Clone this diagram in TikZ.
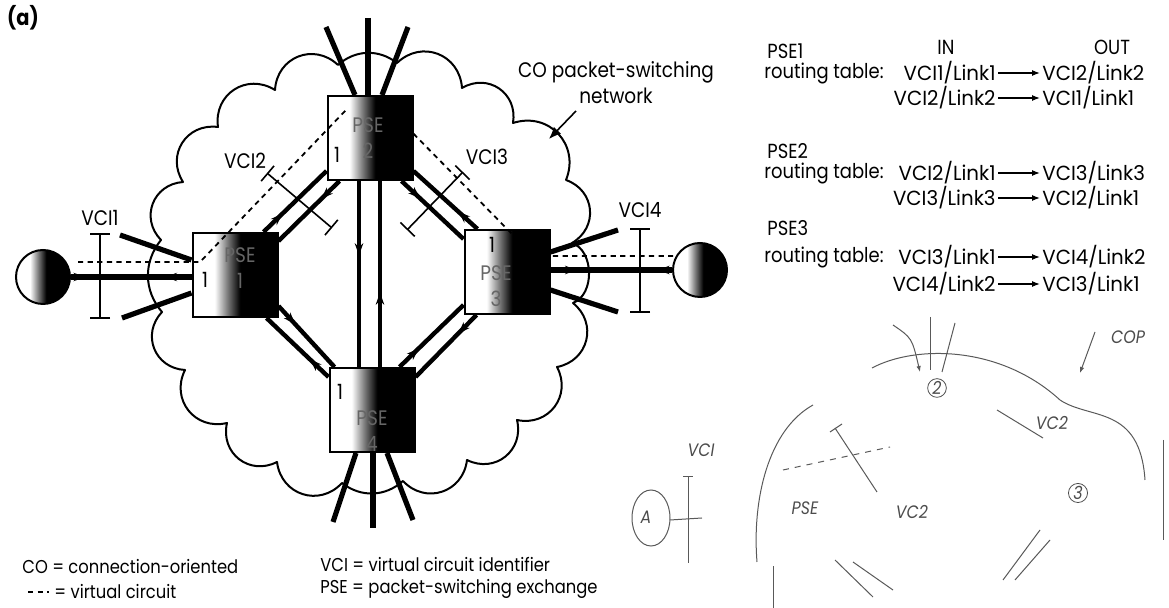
\documentclass[tikz,border=0pt]{standalone}
\usepackage{fontspec}
\setmainfont{Poppins}[FakeStretch=0.88]
\newfontfamily\widefont{Poppins}[FakeStretch=0.97]
\usetikzlibrary{positioning, arrows.meta, calc, backgrounds, decorations.markings}

% white on the left, black on the right (PSEs and hosts)
\pgfdeclarehorizontalshading{psegrad}{100bp}{color(0bp)=(white); color(38bp)=(white); color(46bp)=(black!55); color(53bp)=(black); color(100bp)=(black)}

\newcommand{\tabfont}{\fontsize{10.2}{12}\selectfont}
\newcommand{\legfont}{\fontsize{9.3}{11}\selectfont}
\newcommand{\lblfont}{\fontsize{10.5}{13}\selectfont}

\begin{document}
\begin{tikzpicture}[x=0.5pt, y=-0.5pt,
    pse/.style={draw, line width=1pt, shading=psegrad, minimum width=42.5pt, minimum height=42pt, inner sep=0pt},
    host/.style={circle, draw, line width=1pt, shading=psegrad, minimum size=27pt, inner sep=0pt},
    link/.style={line width=2.2pt},
    stub/.style={line width=2.6pt},
    vc/.style={line width=0.9pt, dash pattern=on 2.6pt off 2.2pt},
    vcibar/.style={line width=0.8pt, {Bar[width=10pt]}-{Bar[width=10pt]}},
    cloudline/.style={line width=1pt, line join=round},
    cloudbump/.style={bend left=65, looseness=1.25},
    midarrow/.style={postaction={decorate}, decoration={markings, mark=at position #1 with {\arrow{Stealth[length=6pt, width=4.2pt]}}}},
    hostarrows/.style={postaction={decorate}, decoration={markings,
        mark=at position 0.12 with {\arrow{Stealth[length=6pt, width=4.2pt]}},
        mark=at position 0.88 with {\arrow{Stealth[length=6pt, width=4.2pt, reversed]}}}},
    lbl/.style={font=\lblfont, inner sep=1pt},
    boxtext/.style={font=\lblfont, inner sep=0pt, align=center},
    tab/.style={font=\tabfont, inner sep=1pt},
    entry/.style={font=\widefont\tabfont, inner sep=1pt},
    tabarrow/.style={line width=0.6pt, -{Latex[length=4pt, width=3pt]}},
    leg/.style={font=\legfont, inner sep=0pt, anchor=west},
    sketch/.style={line width=0.5pt, black!65},
    sketchtext/.style={font=\fontsize{9}{10}\selectfont\itshape, black!70, inner sep=1pt}]
  \useasboundingbox (0,0) rectangle (1169,608);

  \node[font=\bfseries\fontsize{11}{13}\selectfont] (figtag) at (23,18) {(a)};

  % exchanges and hosts
  \node[pse] (pse1) at (235,275) {};
  \node[pse] (pse2) at (370,138) {};
  \node[pse] (pse3) at (507,272) {};
  \node[pse] (pse4) at (372,410) {};
  \node[host] (host1) at (43,277) {};
  \node[host] (host2) at (700,270) {};

  % free ends of the outgoing links
  \coordinate (west1) at (120,235);  \coordinate (west2) at (122,318);
  \coordinate (east1) at (618,230);  \coordinate (east2) at (618,312);
  \coordinate (top1) at (326,27);    \coordinate (top2) at (368,18);    \coordinate (top3) at (408,27);
  \coordinate (bot1) at (333,522);   \coordinate (bot2) at (373,528);   \coordinate (bot3) at (413,520);

  \begin{scope}[on background layer]
    % CO network cloud
    \draw[cloudline] (338,65) to[bend left=40] (397,63)
      to[cloudbump] (462,88) to[cloudbump] (513,123) to[cloudbump] (566,180) to[cloudbump] (572,243)
      to[bend left=70] (573,303)
      to[cloudbump] (557,367) to[cloudbump] (517,420) to[cloudbump] (467,460) to[cloudbump] (403,481)
      to[bend left=40] (342,483)
      to[cloudbump] (277,462) to[cloudbump] (227,423) to[cloudbump] (185,370) to[cloudbump] (162,312)
      to[bend left=40] (161,240)
      to[cloudbump] (183,182) to[cloudbump] (218,127) to[cloudbump] (275,90) to[cloudbump] (338,65);

    % links leaving the network
    \draw[stub] (west1) -- ($(pse1.west)+(0,-15)$);
    \draw[stub] (west2) -- ($(pse1.west)+(0,18)$);
    \draw[stub] (east1) -- ($(pse3.east)+(0,-20)$);
    \draw[stub] (east2) -- ($(pse3.east)+(0,18)$);
    \foreach \n/\dx in {1/-15, 2/-2, 3/12} {
      \draw[stub] (top\n) -- ($(pse2.north)+(\dx,0)$);
    }
    \foreach \n/\dx in {1/-16, 2/1, 3/15} {
      \draw[stub] (bot\n) -- ($(pse4.south)+(\dx,0)$);
    }

    % host links
    \draw[stub, hostarrows] (host1.east) -- (host1.east -| pse1.west);
    \draw[stub, hostarrows] (host2.west) -- (host2.west -| pse3.east);

    % PSE1 - PSE2
    \draw[link, midarrow=0.3] ($(pse1.north east)+(-15,0)$) -- ($(pse2.south west)+(0,-10)$);
    \draw[link, midarrow=0.3] ($(pse2.south west)+(13,0)$) -- ($(pse1.north east)+(0,9)$);
    % PSE2 - PSE3
    \draw[link, midarrow=0.3] ($(pse2.south east)+(-12,0)$) -- ($(pse3.north west)+(0,10)$);
    \draw[link, midarrow=0.3] ($(pse3.north west)+(14,0)$) -- ($(pse2.south east)+(0,-10)$);
    % PSE2 - PSE4
    \draw[link, midarrow=0.4] ($(pse2.south)+(-11,0)$) -- ($(pse4.north)+(-13,0)$);
    \draw[link, midarrow=0.4] ($(pse4.north)+(8,0)$) -- ($(pse2.south)+(10,0)$);
    % PSE1 - PSE4
    \draw[link, midarrow=0.3] ($(pse1.south east)+(0,-12)$) -- ($(pse4.north west)+(6,0)$);
    \draw[link, midarrow=0.3] ($(pse4.north west)+(0,10)$) -- ($(pse1.south east)+(-12,0)$);
    % PSE4 - PSE3
    \draw[link, midarrow=0.3] ($(pse4.north east)+(-16,0)$) -- ($(pse3.south west)+(0,-10)$);
    \draw[link, midarrow=0.3] ($(pse3.south west)+(13,0)$) -- ($(pse4.north east)+(0,10)$);
  \end{scope}

  % texts inside the exchanges
  \node[boxtext] (pse1link) at (205,280) {1};
  \node[boxtext, black!60] (pse1name) at (240,268) {PSE\\1};
  \node[boxtext] (pse2link) at (337,155) {1};
  \node[boxtext, black!60] (pse2name) at (368,138) {PSE\\2};
  \node[boxtext] (pse3link) at (492,245) {1};
  \node[boxtext, black!60] (pse3name) at (496,286) {PSE\\3};
  \node[boxtext] (pse4link) at (340,392) {1};
  \node[boxtext, black!60] (pse4name) at (372,431) {PSE\\4};

  % virtual circuit
  \coordinate (vc0) at (78,262);   \coordinate (vc1) at (200,262);  \coordinate (vc2) at (347,109);
  \coordinate (vc3) at (400,120);  \coordinate (vc4) at (512,234);  \coordinate (vc5) at (530,256);
  \coordinate (vc6) at (673,256);
  \draw[vc] (vc0) -- (vc1) -- (vc2);
  \draw[vc] (vc3) -- (vc4) -- (vc5) -- (vc6);

  % VCI markers
  \coordinate (vci1a) at (100,233);  \coordinate (vci1b) at (100,319);
  \coordinate (vci2a) at (267,173);  \coordinate (vci2b) at (332,228);
  \coordinate (vci3a) at (463,172);  \coordinate (vci3b) at (407,230);
  \coordinate (vci4a) at (640,228);  \coordinate (vci4b) at (640,313);
  \foreach \n in {1,2,3,4} {
    \draw[vcibar] (vci\n a) -- (vci\n b);
  }
  \node[lbl] (vci1lbl) at (100,218) {VCI1};
  \node[lbl] (vci2lbl) at (245,161) {VCI2};
  \node[lbl] (vci3lbl) at (487,157) {VCI3};
  \node[lbl] (vci4lbl) at (640,210) {VCI4};

  % network label
  \node[lbl, align=center] (colbl) at (616,83) {CO packet-switching\\network};
  \coordinate (coarr) at (576,111);  \coordinate (cloudpt) at (549,139);
  \draw[line width=0.8pt, -{Latex[length=6pt, width=5pt]}] (coarr) -- (cloudpt);

  % routing tables
  \node[tab] (inhead) at (946,47) {IN};
  \node[tab] (outhead) at (1112,47) {OUT};
  \foreach \k/\ya/\yb/\yc/\a/\b/\c/\d in {1/51/73/98/1/1/2/2, 2/151/173/198/2/1/3/3, 3/228/257/284/3/1/4/2} {
    \node[tab, anchor=west] (tabname\k) at (765,\ya) {PSE\k};
    \node[tab, anchor=west] (tabrt\k) at (762,\yb) {routing table:};
    \node[entry, anchor=east] (inA\k) at (998,\yb) {VCI\a/Link\b};
    \node[entry, anchor=west] (outA\k) at (1040,\yb) {VCI\c/Link\d};
    \node[entry, anchor=east] (inB\k) at (998,\yc) {VCI\c/Link\d};
    \node[entry, anchor=west] (outB\k) at (1040,\yc) {VCI\a/Link\b};
    \draw[tabarrow] (inA\k) -- (outA\k);
    \draw[tabarrow] (inB\k) -- (outB\k);
  }

  % legend
  \node[leg] (colegend) at (22,567) {CO = connection-oriented};
  \coordinate (vcleg0) at (28,592);  \coordinate (vcleg1) at (49,592);
  \draw[vc] (vcleg0) -- (vcleg1);
  \node[leg] (vclegend) at (54,592) {= virtual circuit};
  \node[leg] (vcilegend) at (320,564) {VCI = virtual circuit identifier};
  \node[leg] (pselegend) at (320,589) {PSE = packet-switching exchange};

  % hand sketch, lower right
  \node[sketchtext] (skvci) at (701,450) {VCI};
  \draw[sketch] (651,518) ellipse (19 and 28);
  \node[sketchtext] (skA) at (646,517) {A};
  \draw[sketch] (688,477) -- (688,563);
  \draw[sketch] (683,477) -- (693,477);
  \draw[sketch] (670,520) -- (702,518);
  \draw[sketch] (757,562) .. controls (752,500) and (768,430) .. (813,405);
  \draw[sketch] (773,608) -- (773,566);
  \node[sketchtext] (skpse) at (805,508) {PSE};
  \draw[sketch, dashed] (783,470) -- (890,447);
  \draw[sketch] (835,428) -- (877,492);
  \draw[sketch] (830,432) -- (842,424);
  \node[sketchtext] (skvc2) at (912,512) {VC2};
  \node[sketchtext, circle, draw, inner sep=0.5pt] (sk2) at (937,388) {2};
  \draw[sketch] (930,317) -- (930,370);
  \draw[sketch] (955,323) -- (942,372);
  \draw[sketch, -{Latex[length=3pt]}] (893,325) .. controls (912,338) .. (920,372);
  \draw[sketch] (872,368) .. controls (915,345) and (1000,345) .. (1060,400) .. controls (1090,420) and (1140,405) .. (1145,480);
  \draw[sketch] (997,410) -- (1043,438);
  \node[sketchtext] (skvc2b) at (1052,423) {VC2};
  \node[sketchtext, circle, draw, inner sep=0.5pt] (sk3) at (1078,493) {3};
  \node[sketchtext] (skcop) at (1128,337) {COP};
  \draw[sketch, -{Latex[length=3pt]}] (1095,332) -- (1080,373);
  \draw[sketch] (835,560) -- (873,597);
  \draw[sketch] (853,562) -- (893,590);
  \draw[sketch] (1040,530) -- (1003,580);
  \draw[sketch] (1050,540) -- (1015,580);
  \draw[sketch] (1163,440) -- (1163,540);
\end{tikzpicture}
\end{document}
